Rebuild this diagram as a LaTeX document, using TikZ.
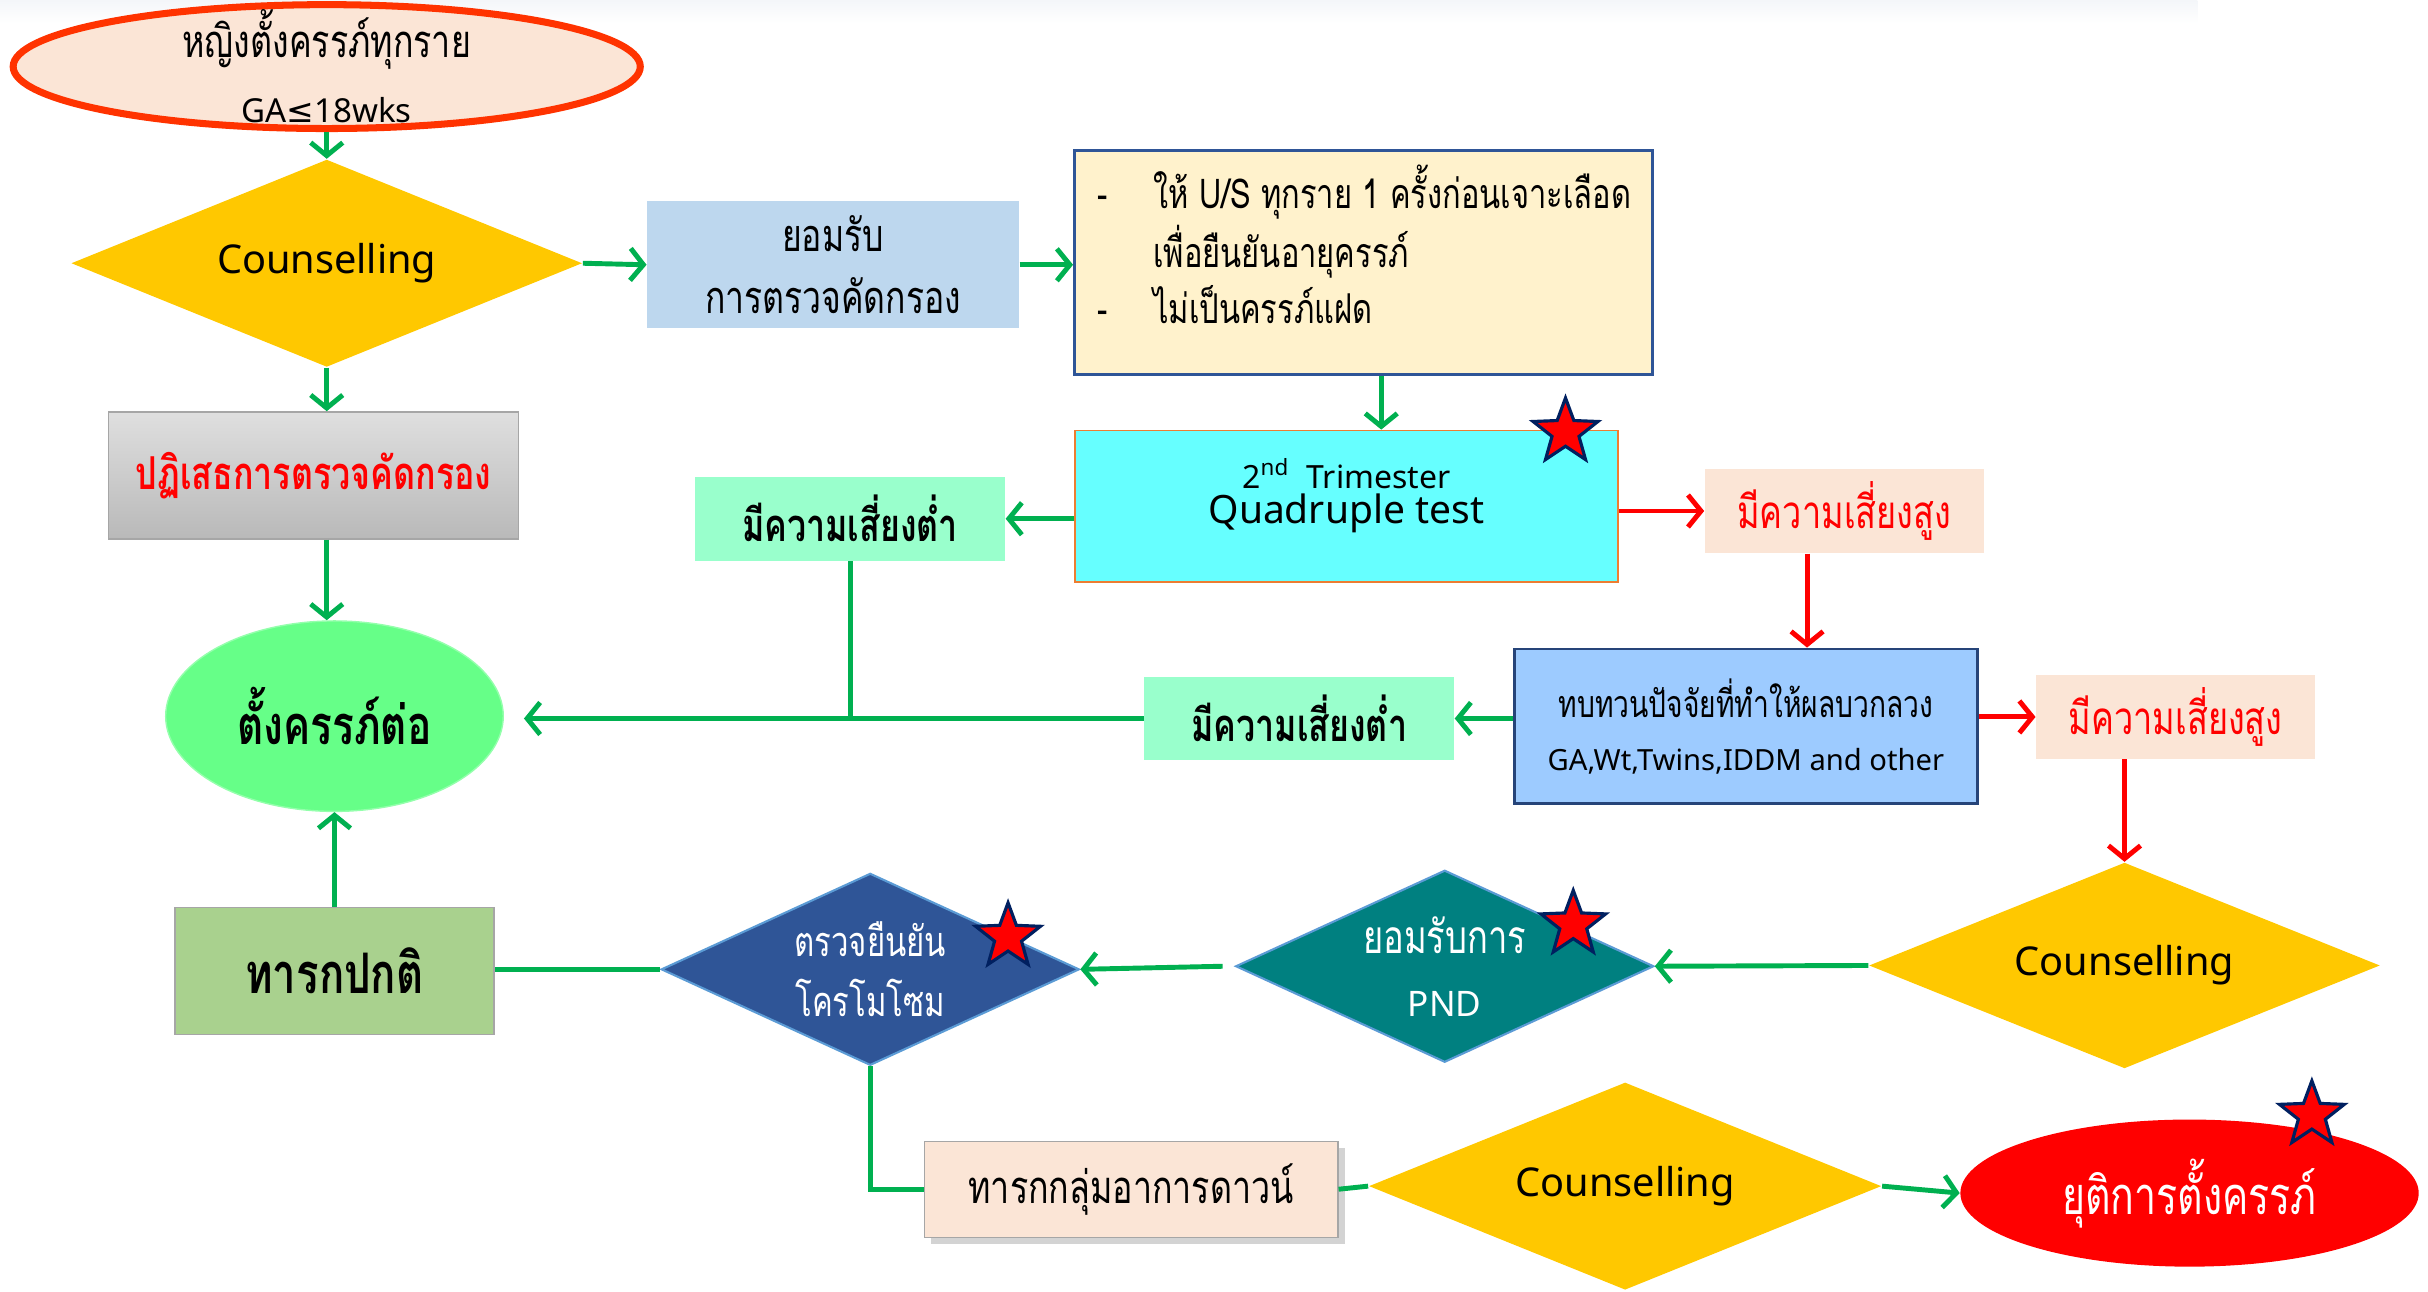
\documentclass[tikz,border=0pt]{standalone}
\usepackage{fontspec}
\setmainfont{Noto Sans}
\newfontfamily\thaifont[Script=Thai,FakeStretch=0.75]{Loma}
\newfontfamily\symfont{DejaVu Sans}
\usetikzlibrary{positioning,arrows.meta,shapes.geometric,shadows,calc}
\definecolor{flowgreen}{HTML}{00B050}
\definecolor{flowred}{HTML}{FF0000}
\definecolor{peach}{HTML}{FBE5D6}
\definecolor{gold}{HTML}{FFC800}
\definecolor{paleblue}{HTML}{BDD7EE}
\definecolor{cream}{HTML}{FFF2CC}
\definecolor{navy}{HTML}{2F5597}
\definecolor{cyanbox}{HTML}{66FFFF}
\definecolor{mint}{HTML}{99FFCC}
\definecolor{skyblue}{HTML}{9DCBFF}
\definecolor{leaf}{HTML}{66FF88}
\definecolor{sage}{HTML}{A9D18E}
\definecolor{pndteal}{HTML}{008080}
\definecolor{starnavy}{HTML}{002060}
\definecolor{edgeblue}{HTML}{5B9BD5}
\definecolor{edgegrey}{HTML}{A6A6A6}
\definecolor{orangeline}{HTML}{ED7D31}
\definecolor{slidetop}{HTML}{F4F6F9}
\def\unitpx{0.15485mm}

\begin{document}
\begin{tikzpicture}[x=0.15485mm,y=-0.15485mm,
    every node/.style={inner sep=0pt,align=center},
    thai/.style 2 args={font=\thaifont\fontsize{#1}{#2}\selectfont},
    gline/.style={draw=flowgreen,line width=1.4pt},
    garrow/.style={gline,-{Straight Barb[length=1.3mm,width=3.2mm]}},
    rarrow/.style={draw=flowred,line width=1.4pt,-{Straight Barb[length=1.3mm,width=3.2mm]}},
    decision/.style={diamond,aspect=2.5,fill=gold,font=\fontsize{11.3}{14}\selectfont},
    lowbox/.style={rectangle,fill=mint,minimum width=200*\unitpx,minimum height=54*\unitpx,thai={12.9}{15}},
    highbox/.style={rectangle,fill=peach,text=flowred,minimum width=180*\unitpx,minimum height=54*\unitpx,thai={13}{15}},
    redstar/.style={star,star points=5,star point ratio=2.4,minimum size=44*\unitpx,fill=red,draw=starnavy,line width=0.9pt}]
  \useasboundingbox (0,0) rectangle (1568,834);
  \fill[top color=slidetop,bottom color=white] (0,0) rectangle (1419,15);

  % screening entry
  \node[ellipse,fill=peach,draw={rgb,255:red,255;green,51;blue,0},line width=2pt,inner ysep=-4pt,
        minimum width=405*\unitpx,minimum height=80*\unitpx,thai={12.9}{18.5}]
        (women) at (211,43) {หญิงตั้งครรภ์ทุกราย\\{\fontspec{Noto Sans}\fontsize{9.4}{11}\selectfont GA{\symfont≤}18wks}};
  \node[decision,minimum width=330*\unitpx,minimum height=134*\unitpx] (counselA) at (211,170) {Counselling};
  \node[rectangle,fill=paleblue,minimum width=240*\unitpx,minimum height=82*\unitpx,thai={12.8}{17.6}]
        (accept) at (538,171) {ยอมรับ\\การตรวจคัดกรอง};
  \node[rectangle,fill=cream,draw=navy,line width=0.9pt,minimum width=373*\unitpx,minimum height=145*\unitpx]
        (prep) at (880.5,169.5) {};
  \node[anchor=north west,align=left,thai={11.7}{15.9}] (preptext) at (708,106)
        {\begin{tabular}{@{}l@{\hspace{4.6mm}}l@{}}
          - & ให้ U/S ทุกราย 1 ครั้งก่อนเจาะเลือด\\
            & เพื่อยืนยันอายุครรภ์\\
          - & ไม่เป็นครรภ์แฝด
         \end{tabular}};
  \node[rectangle,fill=gray!45,top color=gray!25,bottom color=gray!55,draw=edgegrey,
        minimum width=265*\unitpx,minimum height=82*\unitpx,text=flowred,thai={12.9}{15}]
        (reject) at (202.5,307) {\bfseries ปฏิเสธการตรวจคัดกรอง};

  % quadruple test and its results
  \node[rectangle,fill=cyanbox,draw=orangeline,line width=0.5pt,minimum width=351*\unitpx,minimum height=98*\unitpx]
        (quad) at (869.5,327) {};
  \node[font=\fontsize{11.1}{12}\selectfont] (quadtext) at (869.5,320)
        {{\fontsize{9.1}{11}\selectfont 2\textsuperscript{nd}\ \ Trimester}\\[-2pt]Quadruple test};
  \node[redstar] (starquad) at (1011,279) {};
  \node[lowbox] (lowA) at (549,335) {\bfseries มีความเสี่ยงต่ำ};
  \node[highbox] (highA) at (1191,330) {มีความเสี่ยงสูง};
  \node[rectangle,fill=skyblue,draw=navy!80!black,line width=0.7pt,minimum width=299*\unitpx,minimum height=100*\unitpx,thai={10.7}{15}]
        (review) at (1127.5,469) {ทบทวนปัจจัยที่ทำให้ผลบวกลวง\\{\fontspec{Noto Sans}\fontsize{8.3}{15}\selectfont GA,Wt,Twins,IDDM and other}};
  \node[lowbox] (lowB) at (839,464) {\bfseries มีความเสี่ยงต่ำ};
  \node[highbox] (highB) at (1405,463) {มีความเสี่ยงสูง};
  \node[ellipse,fill=leaf,draw=leaf!70!white,minimum width=218*\unitpx,minimum height=123*\unitpx,thai={15.4}{17}]
        (continue) at (216,462.5) {\bfseries ตั้งครรภ์ต่อ};

  % diagnosis row
  \node[rectangle,fill=sage,draw=edgegrey,minimum width=206*\unitpx,minimum height=82*\unitpx,thai={15.9}{17}]
        (normal) at (216,627) {\bfseries ทารกปกติ};
  \node[diamond,aspect=2.2,fill=navy,draw=edgeblue,line width=0.6pt,minimum width=270*\unitpx,minimum height=124*\unitpx,
        text=white,thai={11.8}{17.2}] (chromo) at (562,626) {ตรวจยืนยัน\\โครโมโซม};
  \node[redstar] (starchromo) at (651,605) {};
  \node[diamond,aspect=2.2,fill=pndteal,draw=edgeblue,line width=0.6pt,minimum width=270*\unitpx,minimum height=124*\unitpx,
        text=white,thai={13.1}{18}] (pnd) at (933,624) {ยอมรับการ\\{\fontspec{Noto Sans}\fontsize{10}{12}\selectfont PND}};
  \node[redstar] (starpnd) at (1016,597) {};
  \node[decision,minimum width=330*\unitpx,minimum height=133*\unitpx] (counselB) at (1372,623.5) {Counselling};

  % down syndrome branch
  \node[rectangle,fill=peach,draw=edgegrey,drop shadow={opacity=0.35,shadow xshift=2pt,shadow yshift=-2pt},
        minimum width=267*\unitpx,minimum height=62*\unitpx,thai={12.9}{15}] (down) at (730.5,768) {ทารกกลุ่มอาการดาวน์};
  \node[decision,minimum width=331*\unitpx,minimum height=134*\unitpx] (counselC) at (1049.5,766) {Counselling};
  \node[ellipse,fill=flowred,minimum width=296*\unitpx,minimum height=95*\unitpx,text=white,thai={14.9}{17}]
        (stop) at (1414,770.5) {ยุติการตั้งครรภ์};
  \node[redstar] (starstop) at (1493,720) {};

  % connectors
  \draw[garrow] (women.south) -- (counselA.north);
  \draw[garrow] (counselA.east) -- (accept.west);
  \draw[garrow] (accept.east) -- (accept.east -| prep.west);
  \draw[garrow] ($(prep.south)+(11.5,0)$) -- ($(prep.south |- quad.north)+(11.5,0)$);
  \draw[garrow] (counselA.south) -- (counselA.south |- reject.north);
  \draw[garrow] (counselA.south |- reject.south) -- (counselA.south |- continue.north);
  \draw[garrow] (quad.west |- lowA) -- (lowA.east);
  \draw[rarrow] (quad.east |- highA) -- (highA.west);
  \draw[rarrow] ($(highA.south)+(-24,0)$) -- ($(highA.south |- review.north)+(-24,0)$);
  \draw[garrow] (review.west |- lowB) -- (lowB.east);
  \draw[rarrow] (review.east |- highB) -- (highB.west);
  \coordinate (join) at (lowA.south |- lowB.west);
  \draw[gline] (lowA.south) -- (join);
  \draw[garrow] (lowB.west) -- ([xshift=2mm]lowB.west -| continue.east);
  \draw[rarrow] (counselB.north |- highB.south) -- (counselB.north);
  \draw[garrow] (counselB.west) -- (pnd.east);
  \draw[garrow] ([xshift=-1.2mm]pnd.west) -- (chromo.east);
  \draw[garrow] (normal.north) -- (normal.north |- continue.south);
  \draw[gline] (chromo.west) -- (chromo.west -| normal.east);
  \draw[gline] (chromo.south) |- (down.west);
  \draw[gline] (down.east) -- (counselC.west);
  \draw[garrow] (counselC.east) -- (stop.west);
\end{tikzpicture}
\end{document}
